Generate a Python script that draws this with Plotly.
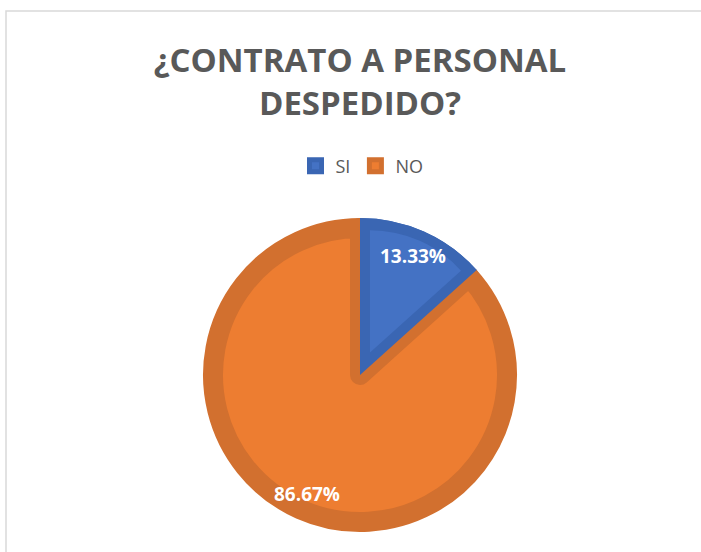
import math
import plotly.graph_objects as go

# ---- data ----
labels = ["SI", "NO"]
values = [2, 13]
title_text = "¿CONTRATO A PERSONAL<br>DESPEDIDO?"

fill_colors = ["#4472C4", "#ED7D31"]
band_colors = ["#3A66B3", "#D2702F"]

W, H = 701, 552
CX, CY = 360, 375       # pie centre in px (from top-left)
R = 157                 # outer radius px
BAND = 10               # inner border band width px


def dom(cx, cy, r):
    return dict(x=[(cx - r) / W, (cx + r) / W],
                y=[(H - cy - r) / H, (H - cy + r) / H])


total = sum(values)
fig = go.Figure()

# Layer A: both slices, thick border (orange border on top)
fig.add_trace(go.Pie(
    labels=labels, values=values, sort=False, direction="clockwise", rotation=0,
    marker=dict(colors=fill_colors, line=dict(color=band_colors, width=2 * BAND)),
    textinfo="none", domain=dom(CX, CY, R - BAND), showlegend=True,
    hoverinfo="label+percent",
))

# Layer B: SI wedge restored in its band colour
fig.add_trace(go.Pie(
    labels=labels, values=values, sort=False, direction="clockwise", rotation=0,
    marker=dict(colors=[band_colors[0], "rgba(0,0,0,0)"], line=dict(width=0)),
    textinfo="none", domain=dom(CX, CY, R), showlegend=False, hoverinfo="skip",
))

# Layer C: SI inset wedge (light fill)
theta = values[0] / total * 2 * math.pi
bis = theta / 2
s = BAND / math.sin(bis)
cx3 = CX + s * math.sin(bis)
cy3 = CY - s * math.cos(bis)
r3 = R - BAND - s
fig.add_trace(go.Pie(
    labels=labels, values=values, sort=False, direction="clockwise", rotation=0,
    marker=dict(colors=[fill_colors[0], "rgba(0,0,0,0)"], line=dict(width=0)),
    textinfo="none", domain=dom(cx3, cy3, r3), showlegend=False, hoverinfo="skip",
))

# percentage labels along each slice bisector
annotations = []
cum = 0
for lab, v in zip(labels, values):
    mid = (cum + v / 2) / total * 2 * math.pi
    cum += v
    px = CX + 0.83 * R * math.sin(mid)
    py = CY - 0.83 * R * math.cos(mid)
    annotations.append(dict(
        x=px / W, y=1 - py / H, xref="paper", yref="paper", showarrow=False,
        text="<b>%.2f%%</b>" % (v / total * 100),
        font=dict(family="Open Sans", size=19, color="white"),
        xanchor="center", yanchor="middle",
    ))

fig.update_layout(
    width=W, height=H,
    margin=dict(l=0, r=0, t=0, b=0),
    paper_bgcolor="white", plot_bgcolor="white",
    title=dict(text="<b>" + title_text + "</b>", x=360 / W, xanchor="center",
               y=1 - 72 / H, yanchor="middle", yref="container",
               font=dict(family="Open Sans", size=33, color="#595959")),
    legend=dict(orientation="h", x=362 / W, xanchor="center", y=1 - 166 / H,
                yanchor="middle", font=dict(family="Open Sans", size=18, color="#595959"),
                bgcolor="rgba(0,0,0,0)", itemwidth=30),
    annotations=annotations,
    shapes=[dict(type="rect", xref="paper", yref="paper",
                 x0=6 / W, x1=1.02, y0=-0.02, y1=1 - 11 / H,
                 line=dict(color="#D9D9D9", width=1.5), fillcolor="rgba(0,0,0,0)",
                 layer="below")],
)

fig.write_html("out.html", config={"displayModeBar": False},
               post_script="document.body.style.margin='0px';")
